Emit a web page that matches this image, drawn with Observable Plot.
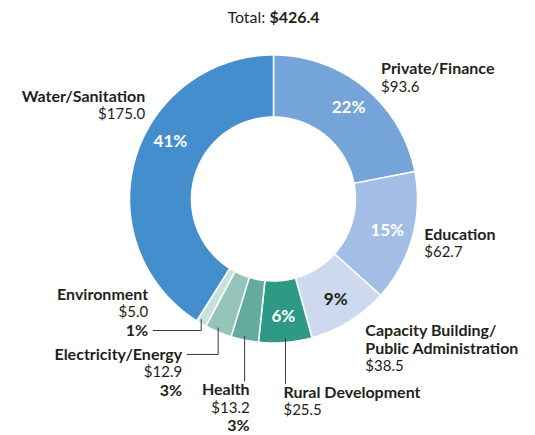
<!DOCTYPE html>
<html><head><meta charset="utf-8">
<script src="https://cdn.jsdelivr.net/npm/d3@7"></script>
<script src="https://cdn.jsdelivr.net/npm/@observablehq/plot@0.6"></script>
<style>
body{margin:0;background:#fff;font-family:Lato,sans-serif;color:#231f20}
#title{height:28px;padding-top:7px;box-sizing:border-box;text-align:center;font-size:16px;line-height:20px;padding-left:12px}
#chart svg{display:block}
</style></head><body>
<div id="title">Total: <b>$426.4</b></div>
<div id="chart"></div>
<script>
// ---- data ----
const categories = ["Private/Finance","Education","Capacity Building/Public Administration","Rural Development","Health","Electricity/Energy","Environment","Water/Sanitation"];
const nameLines = [["Private/Finance"],["Education"],["Capacity Building/","Public Administration"],["Rural Development"],["Health"],["Electricity/Energy"],["Environment"],["Water/Sanitation"]];
const values = [93.6, 62.7, 38.5, 25.5, 13.2, 12.9, 5.0, 175.0];
const valueLabels = ["$93.6","$62.7","$38.5","$25.5","$13.2","$12.9","$5.0","$175.0"];
const percentLabels = ["22%","15%","9%","6%","3%","3%","1%","41%"];

// ---- layout / style ----
const W = 535, H = 407, CX = 273, CY = 170.5, R = 144, R0 = 82, LH = 18, PCT_R = 118;
const colors = ["#74a4d8","#a2bee4","#ccd9ef","#2e9985","#62ab9e","#95c4b9","#c7e2da","#458ecd"];
const ink = "#231f20";
// label placement relative to the slice's outer mid-point (px)
const layout = [
  {dx:16, dy:-19, anchor:"start", inside:true},
  {dx:12, dy:-3, anchor:"start", inside:true},
  {dx:16, dy:9, anchor:"start", inside:true, dark:true},
  {dx:-2, dy:50, anchor:"start", inside:true, leader:"down"},
  {dx:5, dy:50, anchor:"end", leader:"down"},
  {dx:-36, dy:22.5, anchor:"end", leader:"elbow", leaderLine:0},
  {dx:-53, dy:-29, anchor:"end", leader:"elbow", leaderLine:2},
  {dx:10, dy:-62.5, anchor:"end", inside:true, shift:13}
];

const arcs = d3.pie().sort(null).value(d => d)(values);
const rad = Math.PI / 180;

// slice polygons
const slicePts = [];
arcs.forEach((a, i) => {
  const n = Math.max(4, Math.ceil((a.endAngle - a.startAngle) / 0.01));
  const ring = [];
  for (let k = 0; k <= n; k++) { const t = a.startAngle + (a.endAngle - a.startAngle) * k / n; ring.push([R * Math.sin(t), -R * Math.cos(t)]); }
  for (let k = n; k >= 0; k--) { const t = a.startAngle + (a.endAngle - a.startAngle) * k / n; ring.push([R0 * Math.sin(t), -R0 * Math.cos(t)]); }
  ring.push(ring[0]);
  ring.forEach(([x, y]) => slicePts.push({cat: categories[i], x, y}));
});

// label rows
const rows = [], pcts = [], leaders = [];
arcs.forEach((a, i) => {
  const L = layout[i];
  const m = (a.startAngle + a.endAngle) / 2;
  const mx = R * Math.sin(m), my = -R * Math.cos(m);
  const px = mx + L.dx, py = my + L.dy;
  let j = 0;
  nameLines[i].forEach(t => rows.push({x: px, y: py + LH * j++, text: t, bold: true, anchor: L.anchor}));
  rows.push({x: px, y: py + LH * j++, text: valueLabels[i], bold: false, anchor: L.anchor});
  if (!L.inside) rows.push({x: px, y: py + LH * j++, text: percentLabels[i], bold: true, anchor: L.anchor});
  else {
    const pm = m + (L.shift || 0) * rad;
    pcts.push({x: PCT_R * Math.sin(pm), y: -PCT_R * Math.cos(pm), text: percentLabels[i], dark: !!L.dark});
  }
  if (L.leader === "down") {
    leaders.push({cat: categories[i], x: mx, y: my - 4});
    leaders.push({cat: categories[i], x: mx, y: py - 9});
  } else if (L.leader === "elbow") {
    const ly = py + LH * L.leaderLine;
    leaders.push({cat: categories[i], x: mx, y: my - 4});
    leaders.push({cat: categories[i], x: mx, y: ly});
    leaders.push({cat: categories[i], x: px + 5, y: ly});
  }
});

const textMarks = [];
for (const bold of [true, false]) for (const anchor of ["start", "end"]) {
  textMarks.push(Plot.text(rows.filter(r => r.bold === bold && r.anchor === anchor), {
    x: "x", y: "y", text: "text", textAnchor: anchor, fill: ink,
    fontWeight: bold ? "bold" : "normal", fontSize: bold ? 16 : 15
  }));
}

const chart = Plot.plot({
  width: W, height: H, margin: 0,
  style: {fontFamily: "Lato, sans-serif", background: "#fff", overflow: "visible"},
  x: {type: "linear", domain: [-CX, W - CX], range: [0, W], axis: null},
  y: {type: "linear", domain: [-CY, H - CY], range: [0, H], axis: null},
  color: {domain: categories, range: colors},
  marks: [
    Plot.line(slicePts, {x: "x", y: "y", z: "cat", fill: "cat", stroke: "white", strokeWidth: 1.5, curve: "linear"}),
    Plot.line(leaders, {x: "x", y: "y", z: "cat", stroke: "#3a3a3a", strokeWidth: 1, curve: "linear"}),
    Plot.text(pcts.filter(d => !d.dark), {x: "x", y: "y", text: "text", fill: "white", fontWeight: "bold", fontSize: 17}),
    Plot.text(pcts.filter(d => d.dark), {x: "x", y: "y", text: "text", fill: ink, fontWeight: "bold", fontSize: 17}),
    ...textMarks
  ]
});
document.getElementById("chart").append(chart);
</script>
</body></html>
